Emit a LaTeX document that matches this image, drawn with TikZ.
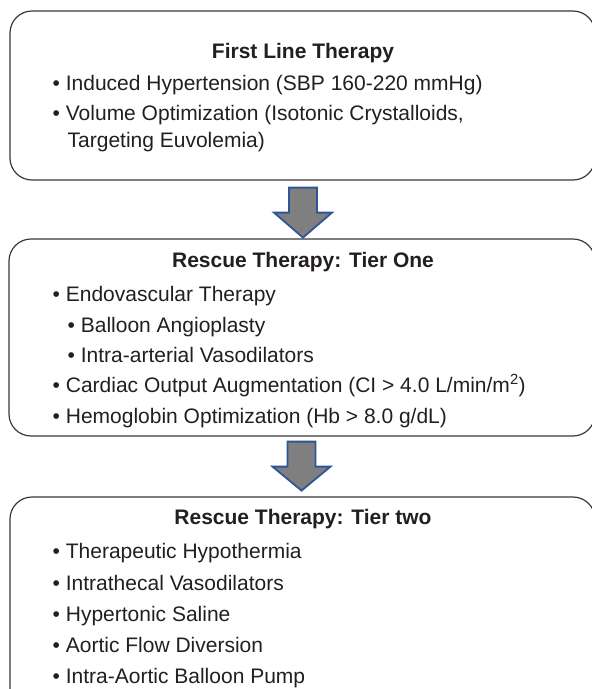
\documentclass[tikz,border=0pt]{standalone}
\usepackage{fontspec}
\setmainfont{Liberation Sans}
\usetikzlibrary{calc}
\definecolor{txtgray}{HTML}{231F20}
\definecolor{boxline}{HTML}{3A3A3A}
\definecolor{arrowfill}{HTML}{7F7F80}
\definecolor{arrowline}{HTML}{2F5597}
\tikzset{
  stage/.style={draw=boxline,line width=1.2pt,rounded corners=22pt,inner sep=0pt},
  head/.style={font=\fontsize{21}{25}\selectfont\bfseries,text=txtgray,anchor=base,inner sep=0pt},
  item/.style={font=\fontsize{21}{25}\selectfont,text=txtgray,anchor=base west,inner sep=0pt},
  blockarrow/.style={draw=arrowline,fill=arrowfill,line width=1.8pt,line join=miter}
}

\begin{document}
\begin{tikzpicture}[x=1pt,y=-1pt]
        \useasboundingbox(0,0)rectangle(592,689);
        \fill[white](0,0)rectangle(592,689);
        \clip(0,0)rectangle(592,689);
        \node[stage,minimum width=585pt,minimum height=169pt](first)at(302.5,95.5){};
        \node[stage,minimum width=586pt,minimum height=197pt](tierone)at(302,337.5){};
        \node[stage,minimum width=585pt,minimum height=223pt](tiertwo)at(302.5,608.5){};
        \node[head](firsthead)at(303,58.7){First Line Therapy};
        \node[item](f1)at(52.5,90){\textbullet\ Induced Hypertension (SBP 160-220 mmHg)};
        \node[item](f2)at(52.5,120.5){\textbullet\ Volume Optimization (Isotonic Crystalloids,};
        \node[item](f3)at(67.5,147){Targeting Euvolemia)};
        \node[head](onehead)at(303,267.5){Rescue Therapy: Tier One};
        \node[item](o1)at(52.5,301.5){\textbullet\ Endovascular Therapy};
        \node[item](o2)at(67.5,332){\textbullet\ Balloon Angioplasty};
        \node[item](o3)at(67.5,362){\textbullet\ Intra-arterial Vasodilators};
        \node[item](o4)at(52.5,392.5){\textbullet\ Cardiac Output Augmentation (CI > 4.0 L/min/m\textsuperscript{2})};
        \node[item](o5)at(52.5,423.5){\textbullet\ Hemoglobin Optimization (Hb > 8.0 g/dL)};
        \node[head](twohead)at(303,524){Rescue Therapy: Tier two};
        \node[item](t1)at(52.5,558.3){\textbullet\ Therapeutic Hypothermia};
        \node[item](t2)at(52.5,590){\textbullet\ Intrathecal Vasodilators};
        \node[item](t3)at(52.5,621.5){\textbullet\ Hypertonic Saline};
        \node[item](t4)at(52.5,652){\textbullet\ Aortic Flow Diversion};
        \node[item](t5)at(52.5,683.3){\textbullet\ Intra-Aortic Balloon Pump};
        \coordinate(a1)at($(first.south)+(0.5,7)$);
        \coordinate(a2)at($(tierone.south)+(-0.5,5)$);
        \draw[blockarrow](a1)+(-14,0)--+(14,0)--+(14,25)--+(29,25)--+(0,50)--+(-29,25)--+(-14,25)--cycle;
        \draw[blockarrow](a2)+(-14,0)--+(14,0)--+(14,25)--+(29,25)--+(0,49)--+(-29,25)--+(-14,25)--cycle;
    \end{tikzpicture}
\end{document}
